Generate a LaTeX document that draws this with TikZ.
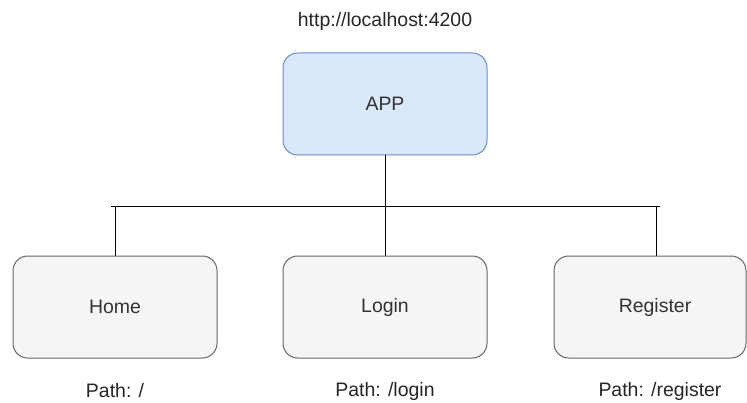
\documentclass[tikz,border=0pt]{standalone}
\usepackage{fontspec}
\setmainfont{Liberation Sans}
\definecolor{appfill}{HTML}{DAE8FC}
\definecolor{appdraw}{HTML}{6C8EBF}
\definecolor{boxfill}{HTML}{F5F5F5}
\definecolor{boxdraw}{HTML}{666666}
\definecolor{boxtext}{HTML}{333333}
\begin{document}
\begin{tikzpicture}[x=0.75pt,y=-0.75pt,
  basebox/.style={rectangle,rounded corners=11pt,line width=0.75pt,inner sep=0pt,
    font=\fontsize{14.6}{17}\selectfont,text=boxtext,minimum height=76.5pt},
  appbox/.style={basebox,draw=appdraw,fill=appfill,minimum width=153pt},
  pagebox/.style={basebox,draw=boxdraw,fill=boxfill,minimum width=153pt},
  caption/.style={font=\fontsize{14.6}{17}\selectfont,text=black!85,inner sep=0pt},
  wire/.style={line width=0.75pt,black}]
\useasboundingbox (0,0) rectangle (747,403);
\node[appbox] (app) at (385,104) {APP};
\node[pagebox] (home) at (115,307) {Home};
\node[pagebox] (login) at (385,307) {Login};
\node[pagebox,minimum width=144pt] (reg) at (650,307) {\hspace*{7.5pt}Register};
\node[caption] (url) at (385,21) {http://localhost:4200};
\node[caption] (phome) at (115,391) {Path: /};
\node[caption] (plogin) at (385,391) {Path: /login};
\node[caption] (preg) at (660,391) {Path: /register};
\coordinate (busL) at (111,206);
\coordinate (busR) at (660,206);
\coordinate (hb) at (115,206);
\coordinate (rb) at (656,206);
\draw[wire] (busL) -- (busR);
\draw[wire] (app.south) -- (login.north);
\draw[wire] (hb) -- (home.north);
\draw[wire] (rb) -- (rb |- reg.north);
\end{tikzpicture}
\end{document}
